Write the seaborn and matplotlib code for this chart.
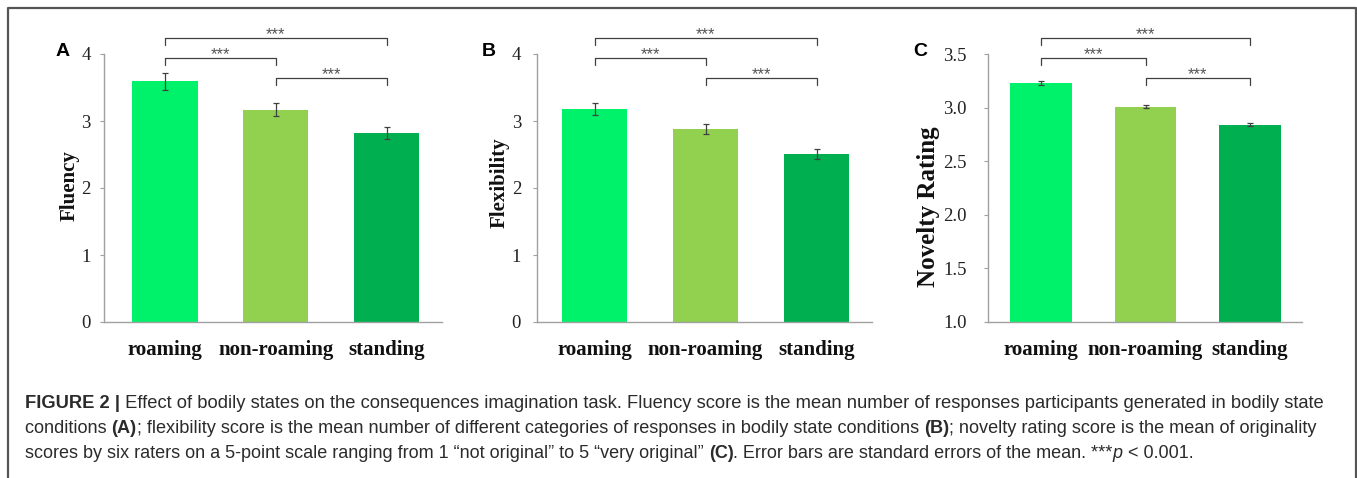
import matplotlib
matplotlib.use("Agg")
import matplotlib.pyplot as plt
from matplotlib.lines import Line2D
import seaborn as sns
import pandas as pd

# ---------------- data ----------------
conditions = ["roaming", "non-roaming", "standing"]
fluency = [3.59, 3.17, 2.82]
fluency_se = [0.12, 0.10, 0.09]
flexibility = [3.18, 2.88, 2.51]
flexibility_se = [0.085, 0.08, 0.07]
novelty = [3.23, 3.01, 2.84]
novelty_se = [0.02, 0.012, 0.012]
bar_colors = ["#00F26B", "#92D050", "#00B050"]
sig_pairs = [(0, 2), (0, 1), (1, 2)]
sig_labels = ["***", "***", "***"]

panels = [
    dict(label="A", ylabel="Fluency", vals=fluency, se=fluency_se,
         yticks=[0, 1, 2, 3, 4], ylim=(0, 4), fmt="{:.0f}"),
    dict(label="B", ylabel="Flexibility", vals=flexibility, se=flexibility_se,
         yticks=[0, 1, 2, 3, 4], ylim=(0, 4), fmt="{:.0f}"),
    dict(label="C", ylabel="Novelty Rating", vals=novelty, se=novelty_se,
         yticks=[1.0, 1.5, 2.0, 2.5, 3.0, 3.5], ylim=(1.0, 3.5), fmt="{:.1f}"),
]

caption_lines = [
    [("FIGURE 2 |", "bold", "normal"),
     (" Effect of bodily states on the consequences imagination task. Fluency score is the mean number of responses participants generated in bodily state", "normal", "normal")],
    [("conditions ", "normal", "normal"), ("(A)", "bold", "normal"),
     ("; flexibility score is the mean number of different categories of responses in bodily state conditions ", "normal", "normal"),
     ("(B)", "bold", "normal"),
     ("; novelty rating score is the mean of originality", "normal", "normal")],
    [("scores by six raters on a 5-point scale ranging from 1 \u201cnot original\u201d to 5 \u201cvery original\u201d ", "normal", "normal"),
     ("(C)", "bold", "normal"),
     (". Error bars are standard errors of the mean. ***", "normal", "normal"),
     ("p", "normal", "italic"), (" < 0.001.", "normal", "normal")],
]

# ---------------- style ----------------
sns.set_theme(style="white")
plt.rcParams["font.family"] = ["Liberation Serif", "DejaVu Serif"]

W, H = 1357, 478
fig = plt.figure(figsize=(W / 100, H / 100), dpi=100)

# axes boxes in pixels: (left, top, right, bottom)
boxes = [(104, 54, 442, 322), (537, 54, 872, 322), (988, 54, 1302, 322)]
xlims = [(-0.55, 2.5), (-0.52, 2.5), (-0.51, 2.5)]
label_coords = [(-0.071, 0.51), (-0.081, 0.52), (-0.153, 0.43)]
ylabel_sizes = [15, 15, 18]
ytick_pads = [6.5, 8.5, 12.5]
panel_label_pos = [(63, 52), (489, 52), (920, 52)]

axis_grey = "#A0A0A0"
err_col = "#404040"

for i, p in enumerate(panels):
    l, t, r, b = boxes[i]
    ax = fig.add_axes([l / W, 1 - b / H, (r - l) / W, (b - t) / H])
    df = pd.DataFrame({"condition": conditions, "value": p["vals"]})
    sns.barplot(data=df, x="condition", y="value", hue="condition",
                palette=bar_colors, saturation=1, width=0.59, legend=False,
                errorbar=None, ax=ax, linewidth=0)
    ax.errorbar(range(len(conditions)), p["vals"], yerr=p["se"], fmt="none",
                ecolor=err_col, elinewidth=0.9, capsize=2.5, capthick=0.9)
    ax.set_xlim(*xlims[i])
    ax.set_ylim(*p["ylim"])
    ax.set_yticks(p["yticks"])
    ax.set_yticklabels([p["fmt"].format(v) for v in p["yticks"]])
    ax.set_xlabel("")
    ax.set_ylabel(p["ylabel"], fontsize=ylabel_sizes[i], fontweight="bold",
                  color="#111111")
    ax.yaxis.set_label_coords(*label_coords[i])
    for s in ["top", "right"]:
        ax.spines[s].set_visible(False)
    for s in ["left", "bottom"]:
        ax.spines[s].set_color(axis_grey)
        ax.spines[s].set_linewidth(1.0)
    ax.tick_params(axis="y", which="both", left=True, length=3, width=0.8,
                   color=axis_grey, labelsize=13.5, labelcolor="#222222",
                   pad=ytick_pads[i])
    ax.tick_params(axis="x", bottom=False, pad=7, labelsize=15,
                   labelcolor="#111111")
    for lab in ax.get_xticklabels():
        lab.set_fontweight("bold")
    ax.set_facecolor("white")

    # significance brackets
    tr = ax.get_xaxis_transform()
    for (x0, x1), ly, txt in zip(sig_pairs, [1.061, 0.986, 0.912], sig_labels):
        h = 0.026
        ax.plot([x0, x0, x1, x1], [ly - h, ly, ly, ly - h], transform=tr,
                color=err_col, lw=0.9, clip_on=False)
        ax.text((x0 + x1) / 2, ly - 0.004, txt, transform=tr, ha="center",
                va="baseline", fontsize=12, color="#555555",
                family=["Liberation Sans", "DejaVu Sans"])

    px, py = panel_label_pos[i]
    fig.text(px / W, 1 - py / H, p["label"], fontsize=14, fontweight="bold",
             family=["Liberation Sans", "DejaVu Sans"], ha="center",
             va="center", color="#000000")

# ---------------- outer frame ----------------
frame_col = "#555555"
fig.add_artist(Line2D([8 / W, 8 / W, 1356 / W, 1356 / W],
                      [0, 1 - 8 / H, 1 - 8 / H, 0], transform=fig.transFigure,
                      color=frame_col, lw=1.6))

# ---------------- caption ----------------
renderer = fig.canvas.get_renderer()
cap_family = ["Liberation Sans", "DejaVu Sans"]
cap_col = "#2b2b2b"


def seg_width(text, size, weight, style):
    t1 = fig.text(0, 0, "X" + text + "X", fontsize=size, fontweight=weight,
                  style=style, family=cap_family)
    t2 = fig.text(0, 0, "XX", fontsize=size, fontweight=weight,
                  style=style, family=cap_family)
    w = t1.get_window_extent(renderer).width - t2.get_window_extent(renderer).width
    t1.remove()
    t2.remove()
    return w


def line_width(segs, size):
    return sum(seg_width(s, size, w, st) for s, w, st in segs)


cap_x0 = 25
line_ends = [1317, 1318, 1190]
baselines = [408, 433, 458]
for segs, yb, xe in zip(caption_lines, baselines, line_ends):
    size = 11.0 * (xe - cap_x0) / line_width(segs, 11.0)
    x = cap_x0
    for s, w, st in segs:
        fig.text(x / W, 1 - yb / H, s, fontsize=size, fontweight=w, style=st,
                 family=cap_family, color=cap_col, va="baseline", ha="left")
        x += seg_width(s, size, w, st)

fig.savefig("out.png", dpi=100, facecolor="white")
